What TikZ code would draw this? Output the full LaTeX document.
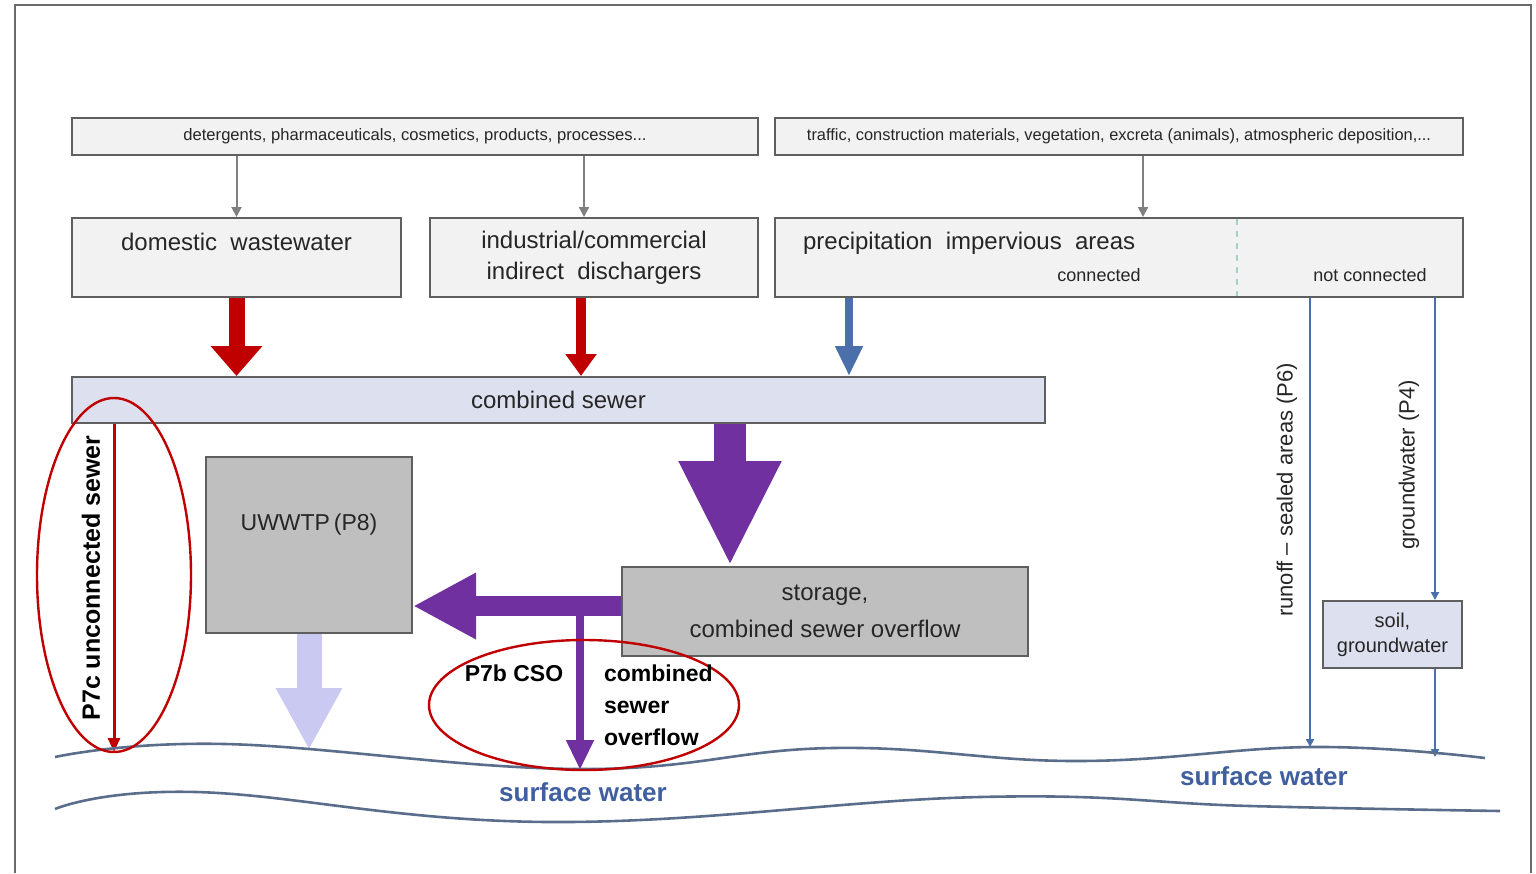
\documentclass[tikz,border=0pt]{standalone}
\usepackage{fontspec}
\setmainfont{Liberation Sans}
\usetikzlibrary{arrows.meta,shapes.geometric,calc}
\definecolor{boxgray}{HTML}{F2F2F2}
\definecolor{edge}{HTML}{5F5F5F}
\definecolor{lav}{HTML}{DDE1EF}
\definecolor{darkbox}{HTML}{BFBFBF}
\definecolor{dred}{HTML}{C00000}
\definecolor{purp}{HTML}{7030A0}
\definecolor{lpurp}{HTML}{C9C9F2}
\definecolor{bluea}{HTML}{4A6FAA}
\definecolor{wave}{HTML}{5A6E8C}
\definecolor{swtext}{HTML}{3F5F9F}
\definecolor{frame}{HTML}{6A6A6A}
\definecolor{divider}{HTML}{A8CCCC}
\begin{document}
\begin{tikzpicture}[x=0.5pt,y=-0.5pt,
  box/.style={draw=edge, line width=1pt, fill=boxgray, inner sep=0pt, text=black!85},
  maintxt/.style={font=\fontsize{12}{15.5}\selectfont, align=center, text=black!85},
  srcarrow/.style={draw=gray, line width=1pt, -{Triangle[width=5pt,length=5pt]}},
  thinblue/.style={draw=bluea, line width=1pt, -{Triangle[width=4pt,length=4pt]}},
  hilite/.style={draw=dred, line width=1.2pt, ellipse, inner sep=0pt},
  boldlbl/.style={font=\bfseries\fontsize{11.5}{16}\selectfont, text=black},
  swlbl/.style={font=\bfseries\fontsize{13}{15}\selectfont, text=swtext},
  wavy/.style={draw=wave, line width=1.3pt}
]
\useasboundingbox (0,0) rectangle (1536,873);
% frame
\draw[frame, line width=1pt] (15,873) -- (15,5) -- (1531,5) -- (1531,873);

% top source boxes
\node[box, minimum width=343pt, minimum height=18.5pt] (src1) at (415,136.5)
  {\fontsize{8.3}{10}\selectfont detergents, pharmaceuticals, cosmetics, products, processes...};
\node[box, minimum width=344pt, minimum height=18.5pt] (src2) at (1119,136.5)
  {\fontsize{8.2}{10}\selectfont traffic, construction materials, vegetation, excreta (animals), atmospheric deposition,...};

% second row
\node[box, maintxt, minimum width=164.5pt, minimum height=39.5pt] (dom) at (236.5,257.5)
  {domestic\ \ wastewater\\\mbox{}};
\node[box, maintxt, minimum width=164pt, minimum height=39.5pt] (ind) at (594,257.5)
  {industrial/commercial\\indirect\ \ dischargers};
\node[box, minimum width=344pt, minimum height=39.5pt] (prec) at (1119,257.5) {};
\draw[divider, dashed, line width=0.8pt] (1237,219) -- (1237,296);
\node[maintxt, anchor=west] (prect) at (796,243) {precipitation\ \ impervious\ \ areas};
\node[font=\fontsize{9}{11}\selectfont, text=black!85] (conn) at (1099,275) {connected};
\node[font=\fontsize{9}{11}\selectfont, text=black!85] (nconn) at (1370,275) {not connected};

% combined sewer
\node[box, fill=lav, font=\fontsize{12}{14}\selectfont, minimum width=486.5pt, minimum height=23pt] (sewer) at (558.5,400)
  {combined sewer};

% UWWTP
\node[box, fill=darkbox, minimum width=103pt, minimum height=88pt] (uww) at (309,545) {};
\node[font=\fontsize{11.5}{14}\selectfont, text=black!85] (uwwt) at (309,525) {UWWTP\,(P8)};

% storage
\node[box, fill=darkbox, maintxt, font=\fontsize{12}{18.5}\selectfont, minimum width=203pt, minimum height=44.5pt] (stor) at (825,611.5)
  {storage,\\combined sewer overflow};

% soil
\node[box, fill=lav, align=center, font=\fontsize{10}{12.5}\selectfont, minimum width=69.5pt, minimum height=33.5pt] (soil) at (1392.5,634.5)
  {soil,\\groundwater};

% coordinates
\coordinate (pd) at (730,0);
\coordinate (cso) at (580,606);
\coordinate (csoend) at (580,770);
\coordinate (uwwend) at (309,750);
\coordinate (p7top) at (114,0);
\coordinate (p7end) at (114,752);
\coordinate (runtop) at (1310,0);
\coordinate (runend) at (1310,747);
\coordinate (gwtop) at (1435,0);
\coordinate (gwend) at (1435,757);

% gray source arrows
\draw[srcarrow] (dom.north |- src1.south) -- (dom.north);
\draw[srcarrow] ([xshift=-5pt]ind.north |- src1.south) -- ([xshift=-5pt]ind.north);
\draw[srcarrow] ([xshift=12pt]prec.north |- src2.south) -- ([xshift=12pt]prec.north);

% inflows to sewer
\draw[draw=dred, line width=8pt, -{Triangle[width=25pt,length=15pt]}] (dom.south) -- (dom.south |- sewer.north);
\draw[draw=dred, line width=5pt, -{Triangle[width=15pt,length=11pt]}] ([xshift=-6.5pt]ind.south) -- ([xshift=-6.5pt]ind.south |- sewer.north);
\draw[draw=bluea, line width=4pt, -{Triangle[width=13pt,length=15pt]}] ([xshift=-135pt]prec.south) -- ([xshift=-135pt]prec.south |- sewer.north);

% sewer to storage
\draw[draw=purp, line width=16pt, -{Triangle[width=47.5pt,length=52.5pt]}] (sewer.south -| pd) -- (stor.north -| pd);
% storage to UWWTP
\draw[draw=purp, line width=10pt, -{Triangle[width=31pt,length=31.5pt]}] ([yshift=2.75pt]stor.west) -- ([yshift=2.75pt]stor.west -| uww.east);
% CSO
\draw[draw=purp, line width=4pt, -{Triangle[width=13pt,length=15pt]}] (cso) -- (csoend);
% UWWTP effluent
\draw[draw=lpurp, line width=12.5pt, -{Triangle[width=31pt,length=31pt]}] (uww.south) -- (uwwend);
% unconnected sewer
\draw[draw=dred, line width=1.5pt, -{Triangle[width=6pt,length=7pt]}] (sewer.south -| p7top) -- (p7end);

% right side
\draw[thinblue] (prec.south -| runtop) -- (runend);
\draw[thinblue] (prec.south -| gwtop) -- (soil.north -| gwtop);
\draw[thinblue] (soil.south -| gwtop) -- (gwend);

% waves
\draw[wavy] plot[smooth, tension=0.7] coordinates {(55,757) (225,744) (578,769) (833,748) (1078,761) (1313,747) (1485,758)};
\draw[wavy] plot[smooth, tension=0.7] coordinates {(55,809) (196,792) (549,822) (980,797) (1250,806) (1500,811)};

% highlight ellipses
\node[hilite, minimum width=77pt, minimum height=177pt] (e1) at (114,575) {};
\node[hilite, minimum width=155pt, minimum height=65pt] (e2) at (584,705) {};

% labels
\node[boldlbl, rotate=90, font=\bfseries\fontsize{12.5}{15}\selectfont] (p7c) at (91,578) {P7c unconnected sewer};
\node[boldlbl] (p7b) at (514,673) {P7b CSO};
\node[boldlbl, align=left, anchor=west] (csot) at (597,705) {combined\\sewer\\overflow};
\node[rotate=90, font=\fontsize{11}{13}\selectfont, text=black!85] (runl) at (1287,490) {runoff -- sealed areas (P6)};
\node[rotate=90, font=\fontsize{11}{13}\selectfont, text=black!85] (gwl) at (1409,465) {groundwater (P4)};
\node[swlbl] (sw1) at (583,792) {surface water};
\node[swlbl] (sw2) at (1264,776) {surface water};
\end{tikzpicture}
\end{document}
